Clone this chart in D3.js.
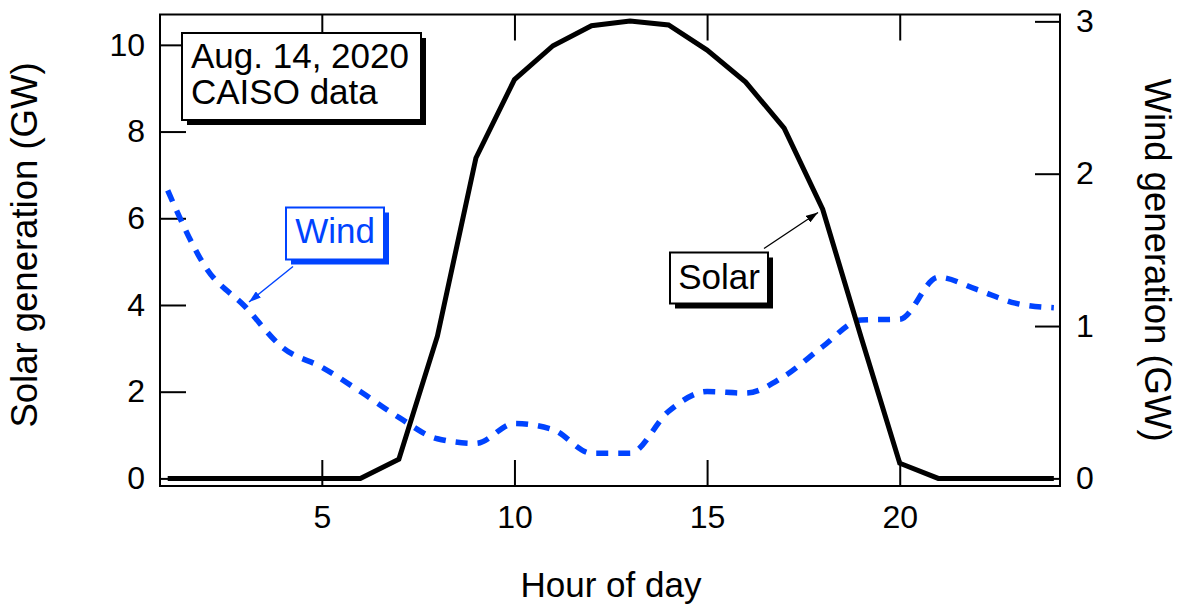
<!DOCTYPE html>
<html>
<head>
<meta charset="utf-8">
<script src="https://cdn.jsdelivr.net/npm/d3@7"></script>
<style>
  html, body { margin: 0; padding: 0; background: #fff; }
  svg { display: block; font-family: "Liberation Sans", Arial, Helvetica, sans-serif; }
</style>
</head>
<body>
<svg id="chart" width="1200" height="609"></svg>
<script>
// ---- data ----
const hours = [1,2,3,4,5,6,7,8,9,10,11,12,13,14,15,16,17,18,19,20,21,22,23,24];
const solarGW = [0,0,0,0,0,0,0.44,3.28,7.39,9.2,9.98,10.44,10.55,10.46,9.88,9.14,8.08,6.21,3.25,0.35,0,0,0,0];
const windGW = [1.89,1.38,1.13,0.855,0.73,0.57,0.40,0.26,0.23,0.36,0.32,0.165,0.165,0.44,0.57,0.56,0.67,0.865,1.04,1.045,1.32,1.24,1.15,1.12];
const xTicks = [5,10,15,20];
const leftTicks = [0,2,4,6,8,10];
const rightTicks = [0,1,2,3];
const noteLines = ["Aug. 14, 2020", "CAISO data"];
const titles = { x: "Hour of day", left: "Solar generation (GW)", right: "Wind generation (GW)" };
const labels = { wind: "Wind", solar: "Solar" };

// ---- layout ----
const L = 160, R = 1060, T = 14.5, B = 486;
const blue = "#0043ff";
const svg = d3.select("#chart");

const x = d3.scaleLinear().domain([0.8, 24.16]).range([L, R]);
const yL = d3.scaleLinear().domain([-0.175, 10.70]).range([B, T]);
const yR = d3.scaleLinear().domain([-0.05, 3.045]).range([B, T]);

const tickFont = 32;

function styleAxis(g) {
  g.select(".domain").remove();
  g.selectAll(".tick line").attr("stroke", "#000").attr("stroke-width", 2);
  g.selectAll(".tick text").attr("font-size", tickFont).attr("fill", "#000")
    .attr("font-family", '"Liberation Sans", Arial, sans-serif');
}

// axes
svg.append("g").attr("transform", `translate(${L},0)`)
  .call(d3.axisLeft(yL).tickValues(leftTicks).tickSizeInner(-26).tickSizeOuter(0).tickPadding(15).tickFormat(d3.format("d")))
  .call(styleAxis);
svg.append("g").attr("transform", `translate(${R},0)`)
  .call(d3.axisRight(yR).tickValues(rightTicks).tickSizeInner(-25).tickSizeOuter(0).tickPadding(16).tickFormat(d3.format("d")))
  .call(styleAxis);
svg.append("g").attr("transform", `translate(0,${B})`)
  .call(d3.axisBottom(x).tickValues(xTicks).tickSizeInner(-26).tickSizeOuter(0).tickPadding(19).tickFormat(d3.format("d")))
  .call(styleAxis);
svg.append("g").attr("transform", `translate(0,${T})`)
  .call(d3.axisTop(x).tickValues(xTicks).tickSizeInner(-26).tickSizeOuter(0).tickFormat(""))
  .call(styleAxis);

// frame
svg.append("rect").attr("x", L).attr("y", T).attr("width", R - L).attr("height", B - T)
  .attr("fill", "none").attr("stroke", "#000").attr("stroke-width", 2);

// wind line (right axis)
const windLine = d3.line().x((d, i) => x(hours[i])).y(d => yR(d)).curve(d3.curveMonotoneX);
svg.append("path").datum(windGW).attr("d", windLine)
  .attr("fill", "none").attr("stroke", blue).attr("stroke-width", 5.5)
  .attr("stroke-dasharray", "12,10");

// solar line (left axis)
const solarLine = d3.line().x((d, i) => x(hours[i])).y(d => yL(d));
svg.append("path").datum(solarGW).attr("d", solarLine)
  .attr("fill", "none").attr("stroke", "#000").attr("stroke-width", 5)
  .attr("stroke-linejoin", "miter");

// arrow markers
const defs = svg.append("defs");
function marker(id, color) {
  defs.append("marker").attr("id", id).attr("viewBox", "0 0 12 8")
    .attr("refX", 12).attr("refY", 4).attr("markerWidth", 12).attr("markerHeight", 8)
    .attr("markerUnits", "userSpaceOnUse").attr("orient", "auto")
    .append("path").attr("d", "M0,0 L12,4 L0,8 Z").attr("fill", color);
}
marker("arrB", "#000");
marker("arrW", blue);

// boxed labels with drop shadow
function box(x0, y0, w, h, color) {
  svg.append("rect").attr("x", x0 + 5).attr("y", y0 + 5).attr("width", w).attr("height", h).attr("fill", color);
  svg.append("rect").attr("x", x0).attr("y", y0).attr("width", w).attr("height", h)
    .attr("fill", "#fff").attr("stroke", color).attr("stroke-width", 2);
}

// note box
box(182, 33, 239, 87, "#000");
svg.append("text").attr("x", 191).attr("y", 68).attr("font-size", 35).attr("fill", "#000").text(noteLines[0]);
svg.append("text").attr("x", 191).attr("y", 104).attr("font-size", 35).attr("fill", "#000").text(noteLines[1]);

// wind label
svg.append("line").attr("x1", 293).attr("y1", 266.5).attr("x2", 249).attr("y2", 302)
  .attr("stroke", blue).attr("stroke-width", 1.4).attr("marker-end", "url(#arrW)");
box(286, 207.5, 98, 52, blue);
svg.append("text").attr("x", 335).attr("y", 243).attr("text-anchor", "middle")
  .attr("font-size", 35).attr("fill", blue).text(labels.wind);

// solar label
svg.append("line").attr("x1", 764).attr("y1", 248.5).attr("x2", 818).attr("y2", 212.5)
  .attr("stroke", "#000").attr("stroke-width", 1.4).attr("marker-end", "url(#arrB)");
box(670, 252.5, 98, 51, "#000");
svg.append("text").attr("x", 719).attr("y", 289).attr("text-anchor", "middle")
  .attr("font-size", 35).attr("fill", "#000").text(labels.solar);

// axis titles
svg.append("text").attr("x", 611).attr("y", 597).attr("text-anchor", "middle")
  .attr("font-size", 35).attr("fill", "#000").text(titles.x);
svg.append("text").attr("transform", "translate(37,245) rotate(-90)").attr("text-anchor", "middle")
  .attr("font-size", 36.5).attr("fill", "#000").text(titles.left);
svg.append("text").attr("transform", "translate(1145,260) rotate(90)").attr("text-anchor", "middle")
  .attr("font-size", 36.5).attr("fill", "#000").text(titles.right);
</script>
</body>
</html>
